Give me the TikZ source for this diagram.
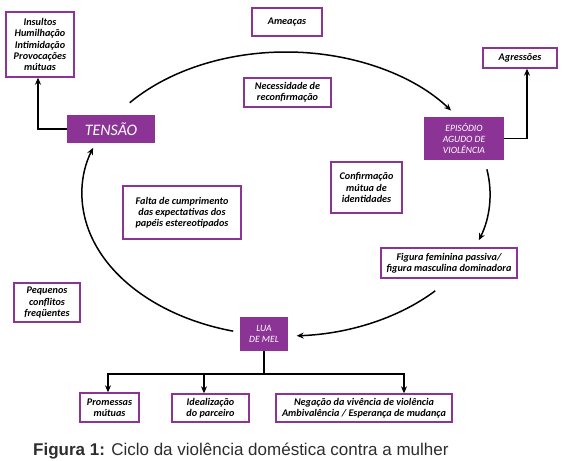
\documentclass[tikz,border=0pt]{standalone}
\usepackage{fontspec}
\setmainfont{Liberation Sans}
\newfontfamily\boxfont{Carlito}
\usetikzlibrary{arrows.meta}
\definecolor{roxo}{RGB}{140,52,150}
\definecolor{capgray}{RGB}{45,45,45}
\tikzset{
  lbox/.style={draw=roxo, line width=1.4pt, fill=white, align=center, inner sep=0pt,
    font=\boxfont\bfseries\itshape\fontsize{10.2}{11.2}\selectfont},
  pbox/.style={fill=roxo, text=white, align=center, inner sep=0pt,
    font=\boxfont\itshape\fontsize{9.6}{11}\selectfont},
  conn/.style={line width=1.5pt, black},
  arr/.style={conn, -{Stealth[length=7pt,width=6pt]}},
}
\begin{document}
\begin{tikzpicture}[x=1pt,y=-1pt]
\useasboundingbox (0,0) rectangle (566,461);
% boxes
\node[lbox, minimum width=68pt, minimum height=65pt] (insultos) at (40,44.5) {Insultos\\Humilhação\\Intimidação\\Provocações\\mútuas};
\node[pbox, minimum width=88pt, minimum height=28pt, font=\boxfont\itshape\fontsize{16}{18}\selectfont] (tensao) at (111,129) {TENSÃO};
\node[lbox, minimum width=70pt, minimum height=28pt] (ameacas) at (287,22) {Ameaças};
\node[lbox, minimum width=87pt, minimum height=29pt] (necess) at (287.5,92.5) {Necessidade de\\reconfirmação};
\node[lbox, minimum width=74pt, minimum height=20pt] (agress) at (520,58) {Agressões};
\node[pbox, minimum width=80pt, minimum height=43pt] (episodio) at (464,138.5) {EPISÓDIO\\AGUDO DE\\VIOLÊNCIA};
\node[lbox, minimum width=71pt, minimum height=51pt] (confirm) at (366.5,187.5) {Confirmação\\mútua de\\identidades};
\node[lbox, minimum width=136pt, minimum height=30pt] (figura) at (449,263) {Figura feminina passiva/\\figura masculina dominadora};
\node[lbox, minimum width=118pt, minimum height=53pt] (falta) at (182,212.5) {Falta de cumprimento\\das expectativas dos\\papéis estereotipados};
\node[lbox, minimum width=66pt, minimum height=39pt] (pequenos) at (47,302.5) {Pequenos\\conflitos\\freqüentes};
\node[pbox, minimum width=48pt, minimum height=34pt] (lua) at (264,334) {LUA\\DE MEL};
\node[lbox, minimum width=59pt, minimum height=29pt] (promessas) at (109.5,407.5) {Promessas\\mútuas};
\node[lbox, minimum width=77pt, minimum height=28pt] (ideal) at (210.5,408) {Idealização\\do parceiro};
\node[lbox, minimum width=176pt, minimum height=28pt] (negacao) at (364,408) {Negação da vivência de violência\\Ambivalência / Esperança de mudança};
% elbow connectors
\draw[arr] (tensao.west) -| ([xshift=-2pt]insultos.south);
\draw[arr] (episodio.east) -| ([xshift=7pt]agress.south);
\coordinate (j) at (264,374);
\draw[conn] (lua.south) -- (j);
\draw[arr] (j) -| ([xshift=-1.5pt]promessas.north);
\draw[arr] (j) -| ([xshift=-6.5pt]ideal.north);
\draw[arr] (j) -| ([xshift=40pt]negacao.north);
% cycle arcs on ellipse centre (286,194), radii 204 x 142 (canvas angles, y up)
\coordinate (ec) at (286,194);
\draw[arr] ([shift={(140:204pt and 142pt)}]ec) arc[start angle=140, end angle=36, x radius=204pt, y radius=142pt];
\draw[arr] ([shift={(10:204pt and 142pt)}]ec) arc[start angle=10, end angle=-19, x radius=204pt, y radius=142pt];
\draw[arr] ([shift={(-43:204pt and 142pt)}]ec) arc[start angle=-43, end angle=-87, x radius=204pt, y radius=142pt];
\draw[arr] ([shift={(-105:204pt and 142pt)}]ec) arc[start angle=-105, end angle=-199, x radius=204pt, y radius=142pt];
% caption
\node[anchor=base west, inner sep=0pt, text=capgray, font=\fontsize{17}{18}\selectfont] (caption) at (33,455) {\textbf{Figura 1:} Ciclo da violência doméstica contra a mulher};
\end{tikzpicture}
\end{document}
